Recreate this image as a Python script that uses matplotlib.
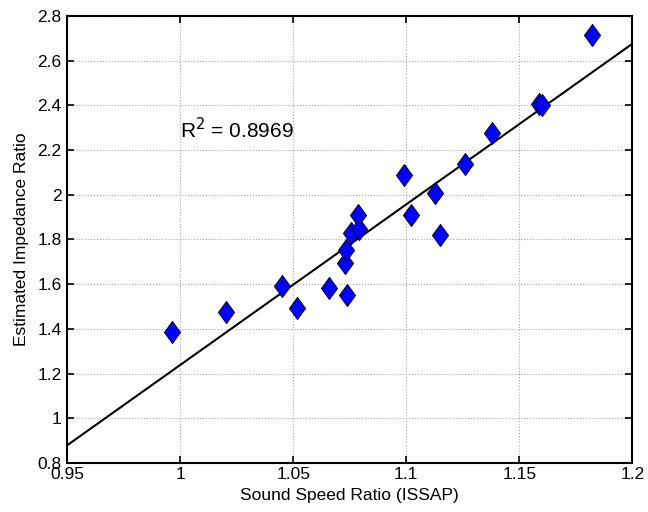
import numpy as np
import matplotlib
matplotlib.use("Agg")
import matplotlib.pyplot as plt
from matplotlib.path import Path

# values
sound_speed = [0.9963, 1.0203, 1.0449, 1.0515, 1.0657, 1.0731, 1.0735, 1.0738,
               1.0754, 1.0785, 1.0790, 1.0989, 1.1022, 1.1125, 1.1147, 1.1260,
               1.1379, 1.1588, 1.1598, 1.1819]
impedance = [1.384, 1.474, 1.592, 1.494, 1.585, 1.696, 1.753, 1.552,
             1.830, 1.911, 1.849, 2.089, 1.908, 2.008, 1.819, 2.138,
             2.277, 2.408, 2.400, 2.714]
x_ticks = [0.95, 1, 1.05, 1.1, 1.15, 1.2]
x_ticklabels = ["0.95", "1", "1.05", "1.1", "1.15", "1.2"]
y_ticks = [0.8, 1, 1.2, 1.4, 1.6, 1.8, 2, 2.2, 2.4, 2.6, 2.8]
y_ticklabels = ["0.8", "1", "1.2", "1.4", "1.6", "1.8", "2", "2.2", "2.4", "2.6", "2.8"]

plt.rcParams['font.family'] = ['Liberation Sans', 'DejaVu Sans']

fig = plt.figure(figsize=(6.48, 5.12), dpi=100)
ax = fig.add_axes([0.1034, 0.0957, 0.8726, 0.8731])

# linear fit through the points
slope, icpt = np.polyfit(sound_speed, impedance, 1)
xl = np.array([0.95, 1.2])
ax.plot(xl, slope * xl + icpt, color='black', lw=1.5, zorder=2)

# MATLAB-like diamond
diamond = Path([(0, 1), (0.73, 0), (0, -1), (-0.73, 0), (0, 1)],
               [Path.MOVETO, Path.LINETO, Path.LINETO, Path.LINETO, Path.CLOSEPOLY])
ax.plot(sound_speed, impedance, linestyle='none', marker=diamond, markersize=16,
        markerfacecolor='#0000ff', markeredgecolor='black', markeredgewidth=0.6, zorder=3)

ax.text(1.0, 2.29, "R$^2$ = 0.8969", fontsize=15, ha='left', va='center')

ax.set_xlim(0.95, 1.2)
ax.set_ylim(0.8, 2.8)
ax.set_xticks(x_ticks)
ax.set_xticklabels(x_ticklabels)
ax.set_yticks(y_ticks)
ax.set_yticklabels(y_ticklabels)
ax.tick_params(direction='in', top=True, right=True, labelsize=12.5, length=5, width=1.2)
ax.tick_params(axis='x', pad=3)
ax.tick_params(axis='y', pad=4)
ax.grid(True, linestyle=':', color='#a8a8a8', lw=0.8)
for s in ax.spines.values():
    s.set_linewidth(1.5)

ax.set_xlabel("Sound Speed Ratio (ISSAP)", fontsize=12.5, labelpad=4)
ax.set_ylabel("Estimated Impedance Ratio", fontsize=12.5, labelpad=6)

fig.savefig("out.png", dpi=100)
